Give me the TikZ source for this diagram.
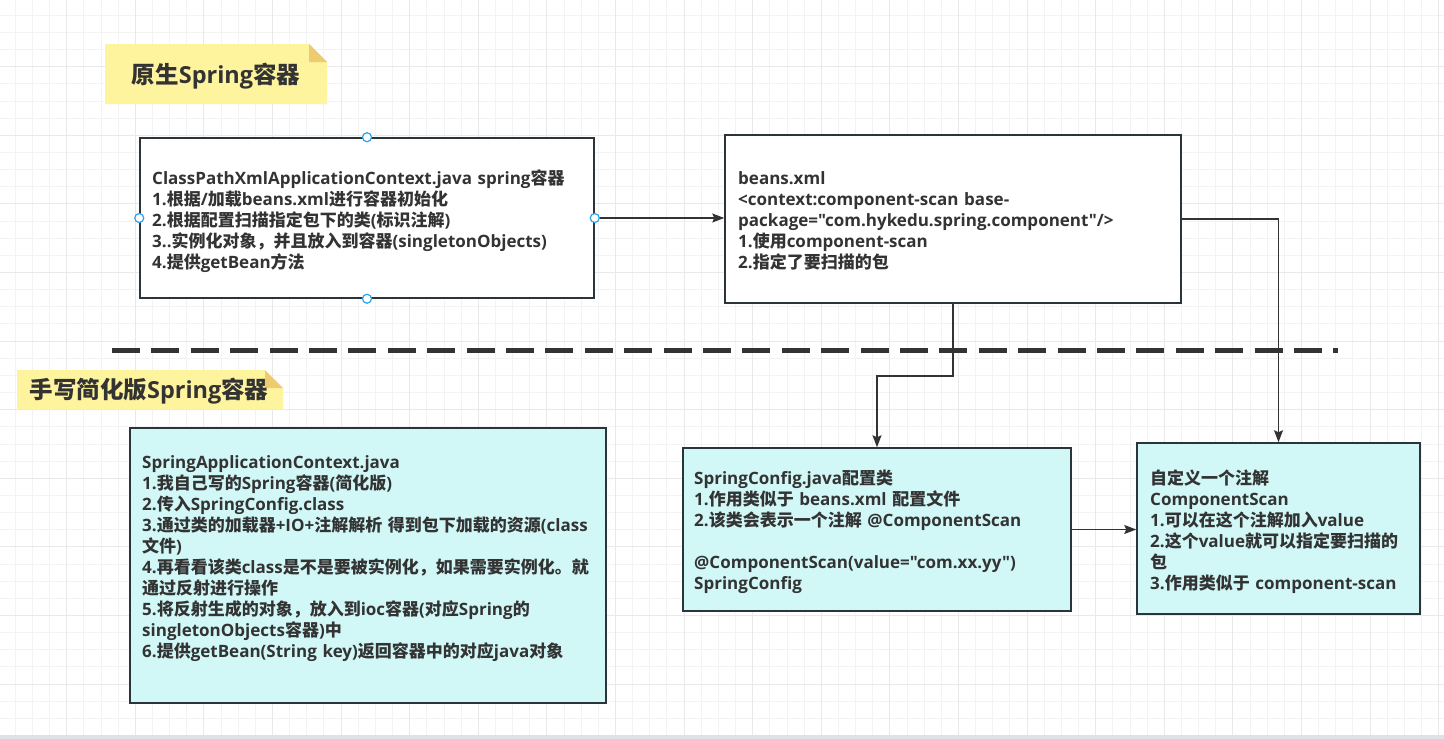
\documentclass[tikz,border=0pt]{standalone}
\usepackage{fontspec}
\setmainfont{Open Sans}[Ligatures=TeXOff]
\newfontfamily\cjkfont{Noto Sans CJK SC}
\usetikzlibrary{arrows.meta}

\XeTeXinterchartokenstate=1
\newXeTeXintercharclass\CJKcls
\makeatletter
\count@="4E00
\loop \XeTeXcharclass\count@=\CJKcls \ifnum\count@<"9FFF \advance\count@\@ne \repeat
\count@="3000
\loop \XeTeXcharclass\count@=\CJKcls \ifnum\count@<"303F \advance\count@\@ne \repeat
\count@="FF00
\loop \XeTeXcharclass\count@=\CJKcls \ifnum\count@<"FFEF \advance\count@\@ne \repeat
\makeatother
\XeTeXinterchartoks 0 \CJKcls = {\begingroup\cjkfont}
\XeTeXinterchartoks 4095 \CJKcls = {\begingroup\cjkfont}
\XeTeXinterchartoks \CJKcls 0 = {\endgroup}
\XeTeXinterchartoks \CJKcls 4095 = {\endgroup}

\definecolor{textc}{HTML}{333333}
\definecolor{linec}{HTML}{333333}
\definecolor{boxc}{HTML}{2B3438}
\definecolor{cyanf}{HTML}{D1F7F7}
\definecolor{notef}{HTML}{FFF49E}
\definecolor{foldf}{HTML}{EDCB6E}
\definecolor{gridminor}{HTML}{F3F3F3}
\definecolor{gridmajor}{HTML}{E9E9E9}
\definecolor{handlec}{HTML}{29A3F0}
\definecolor{bandc}{HTML}{DDE2E6}

\tikzset{
  box/.style={draw=boxc, line width=1.5pt, rectangle, inner sep=0pt},
  wbox/.style={box, fill=white},
  cbox/.style={box, fill=cyanf},
  txt/.style={anchor=base west, inner sep=0pt, align=left, text width=470pt,
    font=\fontsize{17}{21}\selectfont\bfseries, text=textc},
  ttl/.style={inner sep=0pt, font=\fontsize{23.5}{27}\selectfont\bfseries, text=textc},
  arr/.style={draw=linec, line width=1.3pt, -{Stealth[length=12pt,width=9pt,inset=2pt]}},
  handle/.style={circle, draw=handlec, fill=white, line width=1.2pt, minimum size=9pt, inner sep=0pt},
  sep/.style={draw=linec, line width=5pt, dash pattern=on 28pt off 11.4pt},
}

\begin{document}
\begin{tikzpicture}[x=1pt, y=-1pt]
\useasboundingbox (0,0) rectangle (1444,739);
\fill[white] (0,0) rectangle (1444,739);
% grid
\foreach \i in {0,...,84} {
  \pgfmathsetmacro\gx{15.25+17.15*\i}
  \draw[gridminor, line width=1pt] (\gx,0) -- (\gx,735);
}
\foreach \i in {0,...,42} {
  \pgfmathsetmacro\gy{15.25+17.15*\i}
  \draw[gridminor, line width=1pt] (0,\gy) -- (1444,\gy);
}
\foreach \i in {0,...,20} {
  \pgfmathsetmacro\gx{66.7+68.6*\i}
  \draw[gridmajor, line width=1pt] (\gx,0) -- (\gx,735);
}
\foreach \i in {0,...,10} {
  \pgfmathsetmacro\gy{66.7+68.6*\i}
  \draw[gridmajor, line width=1pt] (0,\gy) -- (1444,\gy);
}
\fill[bandc] (0,735) rectangle (1444,739);

% notes
\fill[notef] (105,44) -- (309,44) -- (327,62) -- (327,104) -- (105,104) -- cycle;
\fill[foldf] (309,44) -- (327,62) -- (309,62) -- cycle;
\node[ttl] (t1) at (216,76) {原生Spring容器};

\fill[notef] (17,370) -- (265,370) -- (283,388) -- (283,409) -- (17,409) -- cycle;
\fill[foldf] (265,370) -- (283,388) -- (265,388) -- cycle;
\node[ttl] (t2) at (149,391) {手写简化版Spring容器};

% separator
\coordinate (s1) at (112,350);
\coordinate (s2) at (1338,350);
\draw[sep] (s1) -- (s2);

% boxes
\node[wbox, minimum width=454pt, minimum height=160pt] (cp) at (367,218) {};
\node[wbox, minimum width=456pt, minimum height=168pt] (beans) at (953,219) {};
\node[cbox, minimum width=476pt, minimum height=275pt] (sac) at (368,565.5) {};
\node[cbox, minimum width=388pt, minimum height=163pt] (sc) at (877,529.5) {};
\node[cbox, minimum width=283pt, minimum height=171pt] (cs) at (1278.5,528.5) {};

% texts
\node[txt] (cpt) at (152,184) {ClassPathXmlApplicationContext.java spring容器\\
1.根据/加载beans.xml进行容器初始化\\
2.根据配置扫描指定包下的类(标识注解)\\
3..实例化对象，并且放入到容器(singletonObjects)\\
4.提供getBean方法};

\node[txt] (beanst) at (738,184) {beans.xml\\
<context:component-scan base-\\
package="com.hykedu.spring.component"/>\\
1.使用component-scan\\
2.指定了要扫描的包};

\node[txt] (sact) at (142,468) {SpringApplicationContext.java\\
1.我自己写的Spring容器(简化版)\\
2.传入SpringConfig.class\\
3.通过类的加载器+IO+注解解析 得到包下加载的资源(class\\
文件)\\
4.再看看该类class是不是要被实例化，如果需要实例化。就\\
通过反射进行操作\\
5.将反射生成的对象，放入到ioc容器(对应Spring的\\
singletonObjects容器)中\\
6.提供getBean(String key)返回容器中的对应java对象};

\node[txt] (sct) at (694,484) {SpringConfig.java配置类\\
1.作用类似于 beans.xml 配置文件\\
2.该类会表示一个注解 @ComponentScan\\
~\\
@ComponentScan(value="com.xx.yy")\\
SpringConfig};

\node[txt] (cst) at (1150,484) {自定义一个注解\\
ComponentScan\\
1.可以在这个注解加入value\\
2.这个value就可以指定要扫描的\\
包\\
3.作用类似于 component-scan};

% connectors
\draw[arr] (cp.east) -- (cp.east -| beans.west);
\draw[arr] (beans.south) -- (beans.south |- 0,376) -| (sc.north);
\draw[arr] (beans.east) -| (cs.north);
\draw[arr] (sc.east) -- (sc.east -| cs.west);

% selection handles
\node[handle] (h1) at (cp.north) {};
\node[handle] (h2) at (cp.south) {};
\node[handle] (h3) at (cp.west) {};
\node[handle] (h4) at (cp.east) {};
\end{tikzpicture}
\end{document}
